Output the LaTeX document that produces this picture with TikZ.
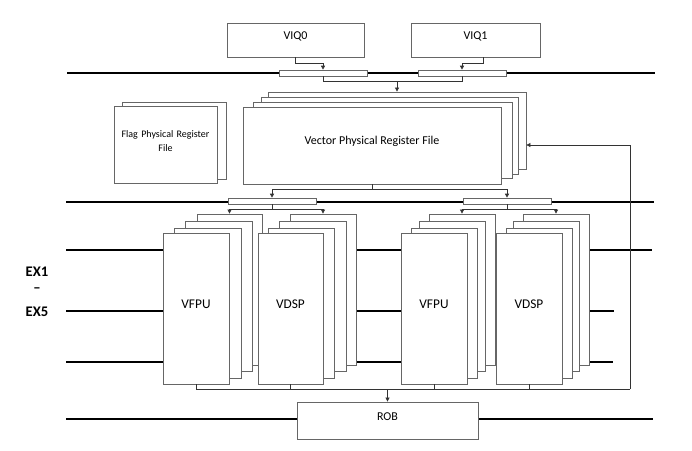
\documentclass[tikz,border=0pt]{standalone}
\usepackage{fontspec}
\setmainfont{Carlito}
\usetikzlibrary{fit,arrows.meta}

\begin{document}
\begin{tikzpicture}[x=0.75pt,y=-0.75pt,
  box/.style={draw=black!60,fill=white,line width=0.6pt,inner sep=0pt},
  mux/.style={draw=black!60,fill=white,line width=0.5pt,inner sep=0pt},
  bus/.style={line width=1.3pt},
  conn/.style={draw=black!80,line width=0.5pt},
  arr/.style={conn,-{Triangle[length=3pt,width=3pt]}},
  lbl/.style={font=\fontsize{9}{10}\selectfont},
  stage/.style={font=\bfseries\fontsize{11}{12}\selectfont}]
\useasboundingbox (0,0) rectangle (692,450);
% pipeline lines
\draw[bus] (67,73) -- (655,73);
\draw[bus] (66,202) -- (654,202);
\draw[bus] (66,250) -- (652,250);
\draw[bus] (66,311) -- (614,311);
\draw[bus] (66,362) -- (613,362);
\draw[bus] (66,419) -- (653,419);
\node[stage] (ex1) at (37,272) {EX1};
\node[stage] (exd) at (37,290) {--};
\node[stage] (ex5) at (37,312) {EX5};
% issue queues
\node[box,lbl,fit={(227,23) (364,57)}] (viq0) {VIQ0};
\node[box,lbl,fit={(411,23) (540,57)}] (viq1) {VIQ1};
\node[mux,fit={(279,70) (367,76)}] (mxa) {};
\node[mux,fit={(418,70) (506,76)}] (mxb) {};
% register files
\node[box,fit={(268,92) (526,169)}] (vrf3) {};
\node[box,fit={(261,97) (518,174)}] (vrf2) {};
\node[box,fit={(253,102) (512,178)}] (vrf1) {};
\node[box,lbl,fit={(243,107) (501,184)}] (vrf) {Vector Physical Register File};
\node[box,fit={(122,102) (226,179)}] (flg1) {};
\node[box,fit={(114,106) (217,183)},align=center,font=\fontsize{7.5}{10}\selectfont] (flg) {Flag Physical Register\\File};
\node[mux,fit={(228,198) (316,204)}] (mxc) {};
\node[mux,fit={(463,198) (551,204)}] (mxd) {};
% execution units
\node[box,fit={(197,214) (262,365)}] (fa3) {};
\node[box,fit={(185,221) (252,371)}] (fa2) {};
\node[box,fit={(174,228) (241,378)}] (fa1) {};
\node[box,fit={(163,233) (229,384)},font=\fontsize{10}{12}\selectfont] (fa) {VFPU};
\node[box,fit={(290,214) (356,365)}] (da3) {};
\node[box,fit={(279,221) (346,371)}] (da2) {};
\node[box,fit={(268,228) (334,378)}] (da1) {};
\node[box,fit={(258,233) (323,384)},font=\fontsize{10}{12}\selectfont] (da) {VDSP};
\node[box,fit={(429,214) (495,365)}] (fb3) {};
\node[box,fit={(419,221) (485,371)}] (fb2) {};
\node[box,fit={(411,228) (477,378)}] (fb1) {};
\node[box,fit={(401,233) (467,384)},font=\fontsize{10}{12}\selectfont] (fb) {VFPU};
\node[box,fit={(523,214) (589,365)}] (db3) {};
\node[box,fit={(513,221) (579,371)}] (db2) {};
\node[box,fit={(506,228) (572,378)}] (db1) {};
\node[box,fit={(496,233) (562,384)},font=\fontsize{10}{12}\selectfont] (db) {VDSP};
\node[box,lbl,fit={(297,402) (478,439)}] (rob) {ROB};
% connectors
\coordinate (m1) at (397,81);
\coordinate (cr) at (630,389);
\coordinate (ct) at (630,145);
\draw[arr] (viq0.south) -- ++(0,6) -| (mxa.north);
\draw[arr] ([xshift=6pt]viq1.south) -- ++(0,6) -| (mxb.north);
\draw[conn] (mxa.south) -- ++(0,5) -| (mxb.south);
\draw[arr] (m1) -- (vrf3.north);
\draw[arr] (vrf.south) -- ++(0,5) -| (mxc.north);
\draw[arr] (vrf.south) -- ++(0,5) -| (mxd.north);
\draw[arr] (mxc.south) -- ++(0,5) -| (fa3.north);
\draw[arr] (mxc.south) -- ++(0,5) -| (da3.north);
\draw[arr] (mxd.south) -- ++(0,5) -| (fb3.north);
\draw[arr] (mxd.south) -- ++(0,5) -| (db3.north);
\draw[conn] (fa.south) |- (cr);
\draw[conn] (da.south) -- (da.south |- cr);
\draw[conn] (fb.south) -- (fb.south |- cr);
\draw[conn] (db.south) -- (db.south |- cr);
\draw[arr] (rob.north |- cr) -- (rob.north);
\draw[arr] (cr) -- (ct) -- (vrf3.east |- ct);
\end{tikzpicture}
\end{document}
